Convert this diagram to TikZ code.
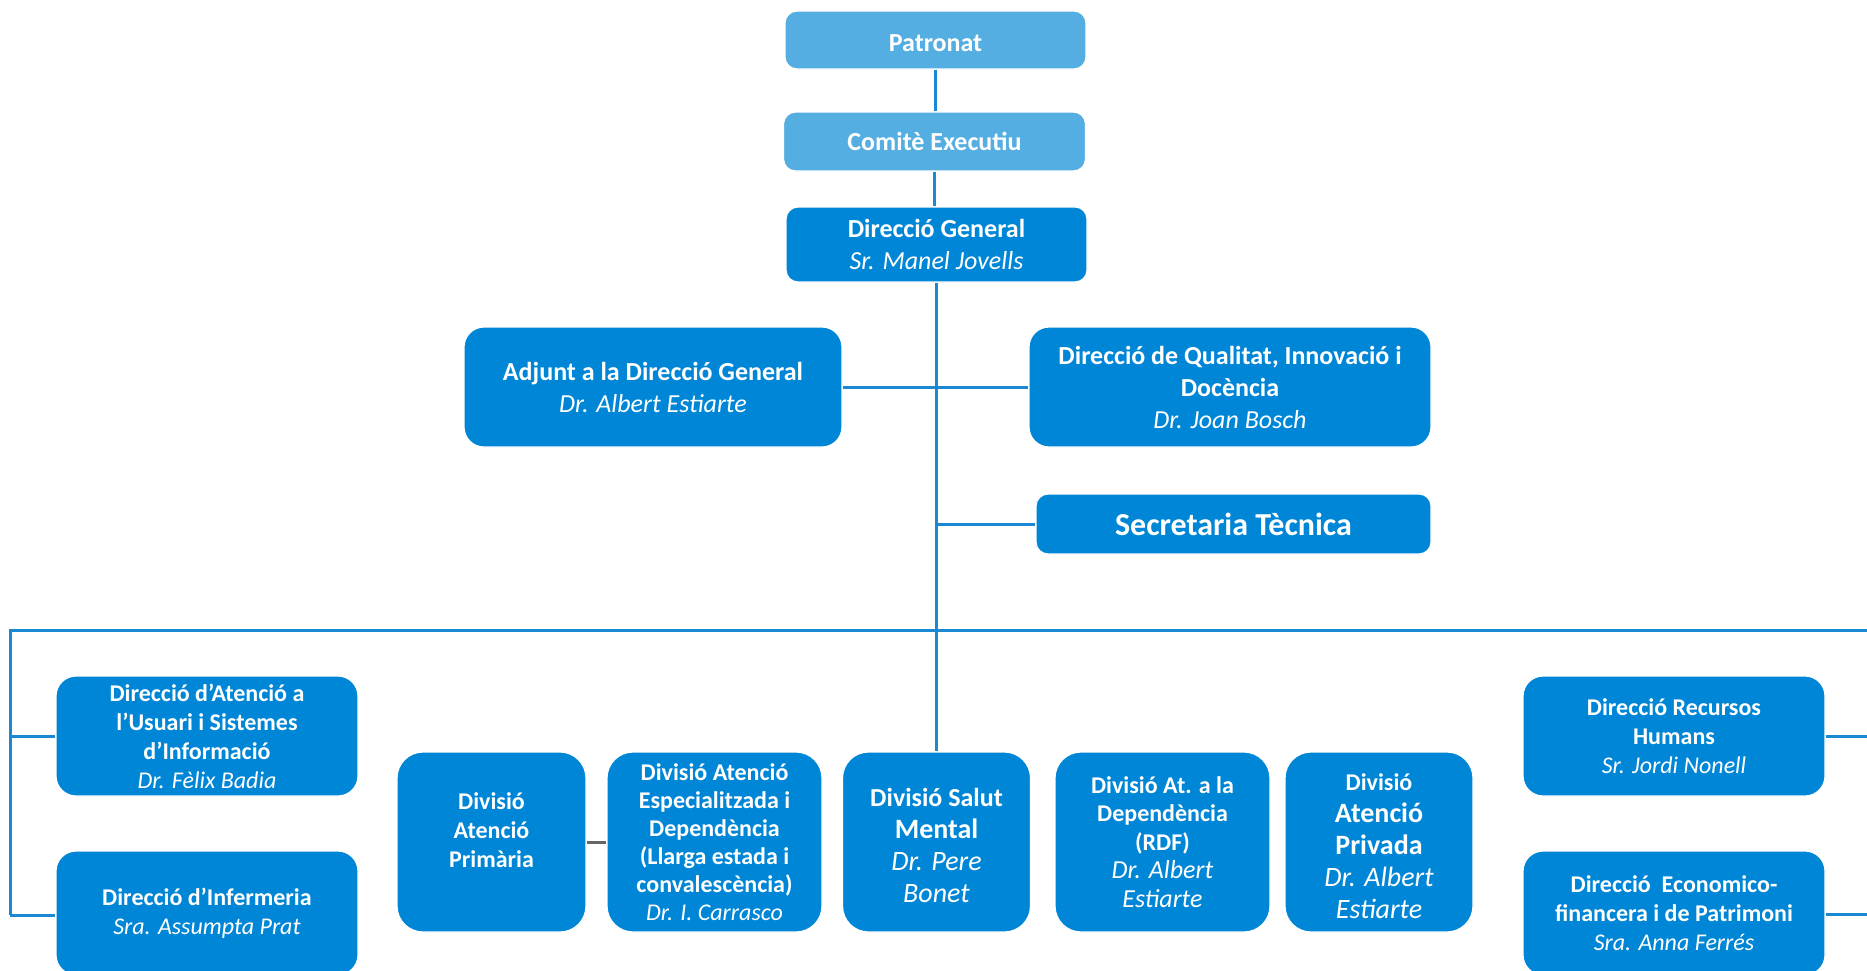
\documentclass[tikz,border=0pt]{standalone}
\usepackage{fontspec}
\setmainfont{Carlito}
\definecolor{lightb}{HTML}{55AEE1}
\definecolor{darkb}{HTML}{0086D6}
\definecolor{linec}{HTML}{1A88D3}
\definecolor{greyc}{HTML}{666666}
\tikzset{
  boxbase/.style={text=white, align=center, inner sep=0pt, draw=white, line width=0.6pt},
  lightbox/.style={boxbase, fill=lightb, rounded corners=6pt, font=\bfseries\fontsize{13}{16}\selectfont},
  topbox/.style={boxbase, fill=darkb, rounded corners=6pt, font=\bfseries\fontsize{13}{16}\selectfont},
  midbox/.style={boxbase, fill=darkb, rounded corners=10pt, font=\bfseries\fontsize{13}{16}\selectfont},
  sidebox/.style={boxbase, fill=darkb, rounded corners=10pt, minimum width=151pt, font=\bfseries\fontsize{12}{14.5}\selectfont},
  divbox/.style={boxbase, fill=darkb, rounded corners=13pt, minimum height=90pt, font=\bfseries\fontsize{12}{14}\selectfont},
  conn/.style={draw=linec, line width=1.5pt},
  greyconn/.style={draw=greyc, line width=1.5pt}
}
\begin{document}
\begin{tikzpicture}[x=0.5pt,y=-0.5pt]
\useasboundingbox (0,0) rectangle (1867,970);
\clip (0,0) rectangle (1867,970);
\fill[white] (0,0) rectangle (1867,970);

% top chain
\node[lightbox, minimum width=150.5pt, minimum height=29pt] (pat) at (935.5,40) {\rule{0pt}{12pt}Patronat};
\node[lightbox, minimum width=151pt, minimum height=29.5pt] (com) at (934.5,141.5) {Comitè Executiu};
\node[topbox, minimum width=150.5pt, minimum height=37.5pt] (dg) at (936.5,244.5) {Direcció General\\\textit{\mdseries Sr. Manel Jovells}};

\node[midbox, minimum width=189pt, minimum height=60pt] (adj) at (653,387) {Adjunt a la Direcció General\\\textit{\mdseries Dr. Albert Estiarte}};
\node[midbox, minimum width=201pt, minimum height=60pt] (qual) at (1230,387) {Direcció de Qualitat, Innovació i\\Docència\\\textit{\mdseries Dr. Joan Bosch}};
\node[topbox, minimum width=197.5pt, minimum height=30pt, font=\bfseries\fontsize{16}{19}\selectfont] (sec) at (1233.5,524) {Secretaria Tècnica};

% side boxes
\node[sidebox, minimum height=60pt] (usu) at (207,736) {Direcció d’Atenció a\\l’Usuari i Sistemes\\d’Informació\\\textit{\mdseries Dr. Fèlix Badia}};
\node[sidebox, minimum height=62pt] (inf) at (207,913) {Direcció d’Infermeria\\\textit{\mdseries Sra. Assumpta Prat}};
\node[sidebox, minimum height=60pt] (rh) at (1674,736) {Direcció Recursos\\Humans\\\textit{\mdseries Sr. Jordi Nonell}};
\node[sidebox, minimum height=62pt] (eco) at (1674,913) {Direcció~ Economico-\\financera i de Patrimoni\\\textit{\mdseries Sra. Anna Ferrés}};

% divisions
\node[divbox, minimum width=94.5pt, font=\bfseries\fontsize{12}{14.3}\selectfont] (pri) at (491.5,842) {Divisió\\Atenció\\Primària\rule[-12pt]{0pt}{12pt}};
\node[divbox, minimum width=107.5pt] (esp) at (714.5,842) {Divisió Atenció\\Especialitzada i\\Dependència\\(Llarga estada i\\convalescència)\\\textit{\mdseries Dr. I. Carrasco}};
\node[divbox, minimum width=94pt, font=\bfseries\fontsize{13}{16}\selectfont] (sal) at (936.5,842) {\rule{0pt}{13pt}Divisió Salut\\{\fontsize{14}{16}\selectfont Mental}\\{\mdseries\itshape\fontsize{14}{16}\selectfont Dr. Pere}\\{\mdseries\itshape\fontsize{14}{16}\selectfont Bonet}};
\node[divbox, minimum width=107.5pt, font=\bfseries\fontsize{12}{14.3}\selectfont] (rdf) at (1162.5,842) {Divisió At. a la\\Dependència\\(RDF)\\{\mdseries\itshape\fontsize{13}{14.5}\selectfont Dr. Albert}\\{\mdseries\itshape\fontsize{13}{14.5}\selectfont Estiarte}};
\node[divbox, minimum width=94pt, font=\bfseries\fontsize{14}{16}\selectfont] (prv) at (1379,842) {{\fontsize{12}{16}\selectfont\rule{0pt}{12.5pt}Divisió}\\Atenció\\Privada\\\textit{\mdseries Dr. Albert}\\\textit{\mdseries Estiarte}};

% connectors
\coordinate (trS) at (dg.south |- sec.west);
\coordinate (busL) at (10,630);
\coordinate (busR) at (1867,630);
\coordinate (leftB) at (10,915);
\coordinate (rhR) at (1867,736);
\coordinate (ecoR) at (1867,914);

\draw[conn] (pat.south) -- (pat.south |- com.north);
\draw[conn] (com.south) -- (com.south |- dg.north);
\draw[conn] (dg.south) -- (dg.south |- sal.north);
\draw[conn] (adj.east) -- (qual.west);
\draw[conn] (trS) -- (sec.west);
\draw[conn] (busR) -- (busL) -- (leftB);
\draw[conn] (busL |- usu.west) -- (usu.west);
\draw[conn] (leftB) -- (leftB -| inf.west);
\draw[conn] (rh.east) -- (rhR);
\draw[conn] (ecoR -| eco.east) -- (ecoR);
\draw[greyconn] (pri.east) -- (esp.west);
\end{tikzpicture}
\end{document}
